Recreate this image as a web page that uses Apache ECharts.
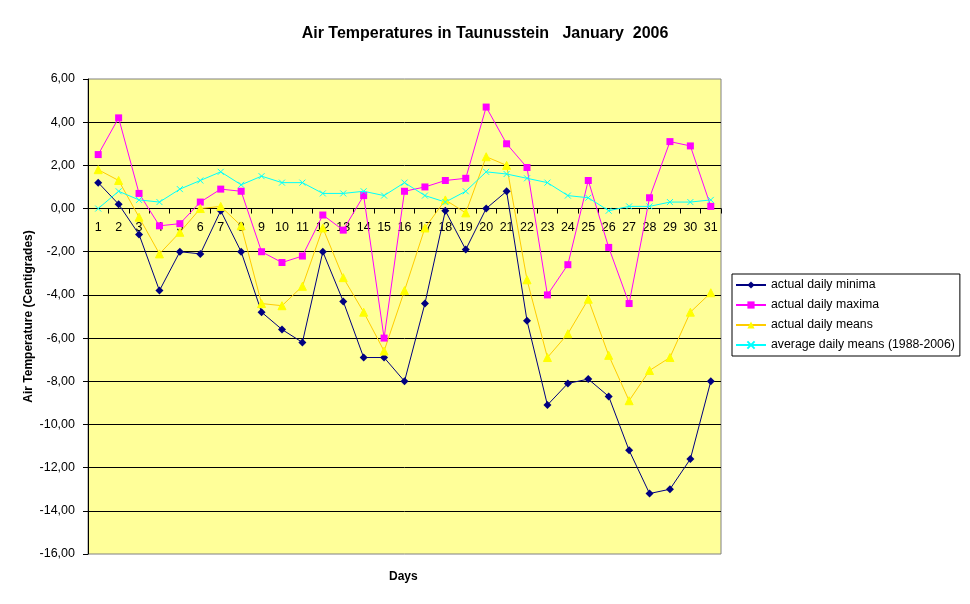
<!DOCTYPE html>
<html><head><meta charset="utf-8">
<script src="https://cdn.jsdelivr.net/npm/echarts@6/dist/echarts.min.js"></script>
<style>html,body{margin:0;padding:0;background:#fff}#c{width:970px;height:604px}</style>
</head><body><div id="c"></div>
<script>
var days = ['1','2','3','4','5','6','7','8','9','10','11','12','13','14','15','16','17','18','19','20','21','22','23','24','25','26','27','28','29','30','31'];
var minima = [1.2,0.2,-1.2,-3.8,-2.0,-2.1,-0.1,-2.0,-4.8,-5.6,-6.2,-2.0,-4.3,-6.9,-6.9,-8.0,-4.4,-0.1,-1.9,0.0,0.8,-5.2,-9.1,-8.1,-7.9,-8.7,-11.2,-13.2,-13.0,-11.6,-8.0];
var maxima = [2.5,4.2,0.7,-0.8,-0.7,0.3,0.9,0.8,-2.0,-2.5,-2.2,-0.3,-1.0,0.6,-6.0,0.8,1.0,1.3,1.4,4.7,3.0,1.9,-4.0,-2.6,1.3,-1.8,-4.4,0.5,3.1,2.9,0.1];
var means = [1.8,1.3,-0.4,-2.1,-1.1,0.0,0.1,-0.8,-4.4,-4.5,-3.6,-0.9,-3.2,-4.8,-6.6,-3.8,-0.9,0.4,-0.2,2.4,2.0,-3.3,-6.9,-5.8,-4.2,-6.8,-8.9,-7.5,-6.9,-4.8,-3.9];
var avgMeans = [0.0,0.8,0.4,0.3,0.9,1.3,1.7,1.1,1.5,1.2,1.2,0.7,0.7,0.8,0.6,1.2,0.6,0.3,0.8,1.7,1.6,1.4,1.2,0.6,0.5,-0.1,0.1,0.1,0.3,0.3,0.4];
var seriesNames = ['actual daily minima','actual daily maxima','actual daily means','average daily means (1988-2006)'];

var font = 'Liberation Sans, Arial, sans-serif';
var chart = echarts.init(document.getElementById('c'), null, {renderer:'canvas'});
var xSym = 'path://M0,0L10,10M10,0L0,10';
var yMin = -16, yMax = 6;
var gridTop = 79, gridBottom = 50, plotH = 604 - gridTop - gridBottom;
var zeroOffset = plotH * (0 - yMin) / (yMax - yMin);
chart.setOption({
  animation: false,
  backgroundColor: '#ffffff',
  title: {
    text: 'Air Temperatures in Taunusstein   January  2006',
    left: 'center', top: 21,
    textStyle: {fontFamily: font, fontSize: 16, fontWeight: 'bold', color: '#000'}
  },
  graphic: [{
    type: 'text', left: 389, top: 571,
    style: {text: 'Days', fontFamily: font, fontSize: 12, fontWeight: 'bold', fill: '#000'}
  }],
  legend: {
    orient: 'vertical', left: 732, top: 274,
    data: seriesNames,
    borderColor: '#000', borderWidth: 1, borderRadius: 0,
    padding: [5, 5, 5, 3],
    itemGap: 8, itemWidth: 30, itemHeight: 9,
    textStyle: {fontFamily: font, fontSize: 12.3, color: '#000'}
  },
  grid: {
    left: 88, right: 249, top: gridTop, bottom: gridBottom,
    show: true, backgroundColor: '#FFFF99', borderColor: '#808080', borderWidth: 1
  },
  xAxis: {
    type: 'category', data: days, boundaryGap: true, position: 'bottom',
    offset: -zeroOffset,
    axisLine: {onZero: false, lineStyle: {color: '#000', width: 1}},
    axisTick: {show: true, alignWithLabel: false, length: 5, lineStyle: {color: '#000'}},
    axisLabel: {fontFamily: font, fontSize: 12.5, color: '#000', margin: 13, interval: 0},
    splitLine: {show: false}
  },
  yAxis: {
    type: 'value', min: yMin, max: yMax, interval: 2,
    name: 'Air Temperature (Centigrades)', nameLocation: 'middle', nameGap: 53,
    nameMoveOverlap: false,
    nameTextStyle: {fontFamily: font, fontSize: 12, fontWeight: 'bold', color: '#000'},
    axisLine: {show: true, lineStyle: {color: '#000', width: 1}},
    axisTick: {show: true, length: 5, lineStyle: {color: '#000'}},
    axisLabel: {fontFamily: font, fontSize: 12.5, color: '#000', margin: 13,
      formatter: function(v){ return v.toFixed(2).replace('.', ','); }},
    splitLine: {show: true, showMinLine: false, showMaxLine: false, lineStyle: {color: '#000', width: 1}}
  },
  series: [
    {name: seriesNames[0], type: 'line', data: minima, symbol: 'diamond', symbolSize: 8,
      lineStyle: {color: '#000080', width: 1}, itemStyle: {color: '#000080'}},
    {name: seriesNames[1], type: 'line', data: maxima, symbol: 'rect', symbolSize: 7,
      lineStyle: {color: '#FF00FF', width: 1}, itemStyle: {color: '#FF00FF'}},
    {name: seriesNames[2], type: 'line', data: means, symbol: 'triangle', symbolSize: 8,
      lineStyle: {color: '#FFCC00', width: 1}, itemStyle: {color: '#FFFF00', borderColor: '#FFFF00'}},
    {name: seriesNames[3], type: 'line', data: avgMeans, symbol: xSym, symbolSize: 6,
      lineStyle: {color: '#00FFFF', width: 1}, itemStyle: {color: 'rgba(0,0,0,0)', borderColor: '#00FFFF', borderWidth: 1}}
  ]
});
</script></body></html>
